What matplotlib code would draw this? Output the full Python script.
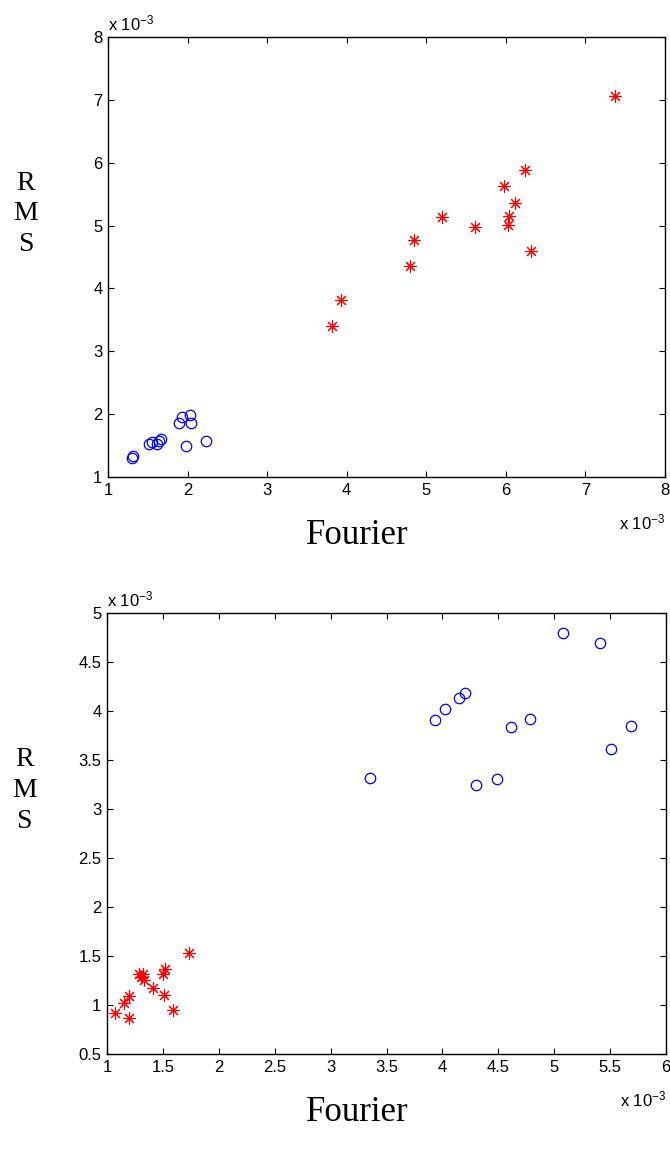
import matplotlib
matplotlib.use('Agg')
import matplotlib.pyplot as plt
from matplotlib.ticker import FormatStrFormatter

# Feature values, in units of 1e-3.
top_circle_fourier = [1.30, 1.32, 1.51, 1.55, 1.61, 1.64, 1.66, 1.89, 1.93, 2.03, 2.04, 1.98, 2.23]
top_circle_rms = [1.31, 1.33, 1.52, 1.56, 1.53, 1.57, 1.61, 1.86, 1.95, 1.99, 1.86, 1.49, 1.57]
top_star_fourier = [3.82, 3.93, 4.79, 4.84, 5.20, 5.61, 5.98, 6.04, 6.03, 6.12, 6.24, 6.32, 7.37]
top_star_rms = [3.40, 3.81, 4.36, 4.77, 5.14, 4.97, 5.63, 5.16, 5.01, 5.36, 5.89, 4.60, 7.06]

bottom_circle_fourier = [3.35, 3.93, 4.02, 4.15, 4.20, 4.30, 4.49, 4.61, 4.78, 5.08, 5.41, 5.51, 5.69]
bottom_circle_rms = [3.32, 3.91, 4.02, 4.13, 4.18, 3.24, 3.31, 3.84, 3.92, 4.80, 4.69, 3.61, 3.85]
bottom_star_fourier = [1.07, 1.15, 1.20, 1.20, 1.29, 1.32, 1.33, 1.30, 1.41, 1.50, 1.52, 1.51, 1.59, 1.73]
bottom_star_rms = [0.92, 1.02, 1.09, 0.87, 1.32, 1.32, 1.26, 1.29, 1.17, 1.32, 1.37, 1.10, 0.95, 1.53]

top_xticks = [1, 2, 3, 4, 5, 6, 7, 8]
top_yticks = [1, 2, 3, 4, 5, 6, 7, 8]
bottom_xticks = [1, 1.5, 2, 2.5, 3, 3.5, 4, 4.5, 5, 5.5, 6]
bottom_yticks = [0.5, 1, 1.5, 2, 2.5, 3, 3.5, 4, 4.5, 5]

plt.rcParams['font.family'] = ['Liberation Sans', 'DejaVu Sans']
plt.rcParams['mathtext.default'] = 'regular'

W, H = 670, 1149
fig = plt.figure(figsize=(W / 100, H / 100), dpi=100)


def _axes_from_pixels(left, top, right, bottom):
    return fig.add_axes([left / W, 1 - bottom / H, (right - left) / W, (bottom - top) / H])


def _style(ax, xticks, yticks):
    ax.set_xlim(xticks[0], xticks[-1])
    ax.set_ylim(yticks[0], yticks[-1])
    ax.set_xticks(xticks)
    ax.set_yticks(yticks)
    ax.xaxis.set_major_formatter(FormatStrFormatter('%g'))
    ax.yaxis.set_major_formatter(FormatStrFormatter('%g'))
    ax.tick_params(direction='in', top=True, right=True, length=4, width=0.8,
                   labelsize=12, pad=4)
    for spine in ax.spines.values():
        spine.set_linewidth(1.0)

    # Exponent notes, one above the y axis and one under the x axis.
    ax.text(0.0, 1.008, 'x 10$^{-3}$', transform=ax.transAxes,
            ha='left', va='bottom', fontsize=12)
    ax.text(1.0, -0.08, 'x 10$^{-3}$', transform=ax.transAxes,
            ha='right', va='top', fontsize=12)

    ax.text(0.448, -0.095, 'Fourier', transform=ax.transAxes, ha='center', va='top',
            fontsize=25, family='Liberation Serif')
    ax.text(-0.148, 0.5, 'R\nM\nS', transform=ax.transAxes, ha='center',
            va='bottom', fontsize=20, family='Liberation Serif', linespacing=1.3)


def _scatter(ax, cx, cy, sx, sy):
    ax.plot(cx, cy, 'o', color='b', markerfacecolor='none', markersize=7.5,
            markeredgewidth=0.9, linestyle='none')
    ax.plot(sx, sy, marker=(8, 2, 0), color='r', markersize=9,
            markeredgewidth=0.8, linestyle='none')


ax_top = _axes_from_pixels(108, 37, 665, 477)
_scatter(ax_top, top_circle_fourier, top_circle_rms, top_star_fourier, top_star_rms)
_style(ax_top, top_xticks, top_yticks)

ax_bottom = _axes_from_pixels(107, 613, 666, 1054)
_scatter(ax_bottom, bottom_circle_fourier, bottom_circle_rms,
         bottom_star_fourier, bottom_star_rms)
_style(ax_bottom, bottom_xticks, bottom_yticks)

fig.savefig('out.png', dpi=100)
